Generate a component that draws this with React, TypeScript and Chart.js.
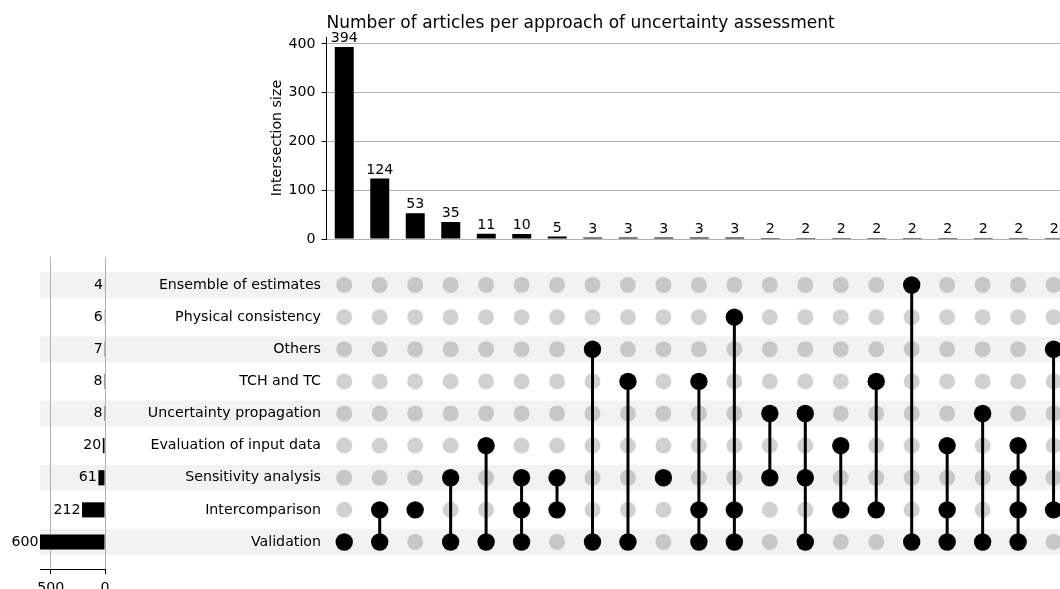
import React, { useEffect, useRef } from "react";
import { Chart, registerables } from "chart.js";

Chart.register(...registerables);

const FONT = "'DejaVu Sans', 'Liberation Sans', sans-serif";
const CANVAS_W = 1080;
const CANVAS_H = 589;
const SMALL = 14.2;
const BIG = 17.05;

const TITLE = "Number of articles per approach of uncertainty assessment";
const Y_TITLE = "Intersection size";

// Sets, top to bottom in the matrix
const SETS = [
  "Ensemble of estimates",
  "Physical consistency",
  "Others",
  "TCH and TC",
  "Uncertainty propagation",
  "Evaluation of input data",
  "Sensitivity analysis",
  "Intercomparison",
  "Validation",
];
const SET_TOTALS = [4, 6, 7, 8, 8, 20, 61, 212, 600];

// Intersections, left to right
const INTERSECTION_SIZES = [394, 124, 53, 35, 11, 10, 5, 3, 3, 3, 3, 3, 2, 2, 2, 2, 2, 2, 2, 2, 2];
const INTERSECTION_MEMBERS = [
  ["Validation"],
  ["Intercomparison", "Validation"],
  ["Intercomparison"],
  ["Sensitivity analysis", "Validation"],
  ["Evaluation of input data", "Validation"],
  ["Sensitivity analysis", "Intercomparison", "Validation"],
  ["Sensitivity analysis", "Intercomparison"],
  ["Others", "Validation"],
  ["TCH and TC", "Validation"],
  ["Sensitivity analysis"],
  ["TCH and TC", "Intercomparison", "Validation"],
  ["Physical consistency", "Intercomparison", "Validation"],
  ["Uncertainty propagation", "Sensitivity analysis"],
  ["Uncertainty propagation", "Sensitivity analysis", "Validation"],
  ["Evaluation of input data", "Intercomparison"],
  ["TCH and TC", "Intercomparison"],
  ["Ensemble of estimates", "Validation"],
  ["Evaluation of input data", "Intercomparison", "Validation"],
  ["Uncertainty propagation", "Validation"],
  ["Evaluation of input data", "Sensitivity analysis", "Intercomparison", "Validation"],
  ["Others", "Intercomparison"],
];

const Y_TICKS = [0, 100, 200, 300, 400];
const TOTALS_TICKS = [0, 500];

export default function App() {
  const barRef = useRef<HTMLCanvasElement>(null);
  const matRef = useRef<HTMLCanvasElement>(null);
  const totRef = useRef<HTMLCanvasElement>(null);

  useEffect(() => {
    const charts: any[] = [];
    const tickFont = { family: FONT, size: SMALL, weight: "normal" as const, lineHeight: 1.2 };

    // ---------- Matrix chart ----------
    const active: any[] = [];
    const inactive: any[] = [];
    const lineSets: any[] = [];
    INTERSECTION_MEMBERS.forEach((members, col) => {
      const rows: number[] = [];
      SETS.forEach((s, r) => {
        if (members.includes(s)) {
          active.push({ x: col, y: r });
          rows.push(r);
        } else {
          inactive.push({ x: col, y: r });
        }
      });
      if (rows.length > 1) {
        lineSets.push({
          type: "scatter",
          data: [
            { x: col, y: Math.min(...rows) },
            { x: col, y: Math.max(...rows) },
          ],
          showLine: true,
          borderColor: "#000",
          borderWidth: 3,
          pointRadius: 0,
          pointHoverRadius: 0,
          order: 1,
          clip: false,
        });
      }
    });

    const stripes = {
      id: "stripes",
      beforeDraw(chart: any) {
        const ctx = chart.ctx;
        const y = chart.scales.y;
        ctx.save();
        ctx.fillStyle = "rgba(0,0,0,0.05)";
        SETS.forEach((_, i) => {
          if (i % 2 === 0) {
            const top = y.getPixelForValue(i - 0.4);
            const bot = y.getPixelForValue(i + 0.4);
            ctx.fillRect(40, Math.min(top, bot), chart.width - 40, Math.abs(bot - top));
          }
        });
        ctx.restore();
      },
    };

    charts.push(
      new Chart(matRef.current as HTMLCanvasElement, {
        type: "scatter",
        data: {
          datasets: [
            {
              data: active,
              pointRadius: 8.7,
              pointHoverRadius: 8.7,
              pointBackgroundColor: "#000",
              pointBorderWidth: 0,
              pointBorderColor: "rgba(0,0,0,0)",
              order: 0,
              clip: false,
            },
            ...lineSets,
            {
              data: inactive,
              pointRadius: 8,
              pointHoverRadius: 8,
              pointBackgroundColor: "rgba(0,0,0,0.18)",
              pointBorderWidth: 0,
              pointBorderColor: "rgba(0,0,0,0)",
              order: 2,
              clip: false,
            },
          ],
        } as any,
        options: {
          responsive: false,
          animation: false,
          events: [],
          layout: { padding: { left: 0, top: 268.94, right: 8, bottom: 30.94 } },
          plugins: { legend: { display: false }, tooltip: { enabled: false }, title: { display: false } },
          scales: {
            x: { type: "linear", min: -0.5, max: INTERSECTION_SIZES.length - 0.5, display: false },
            y: {
              type: "linear",
              min: -0.5,
              max: SETS.length - 0.5,
              reverse: true,
              offset: false,
              afterFit: (s: any) => {
                s.width = 326.5;
              },
              afterBuildTicks: (s: any) => {
                s.ticks = SETS.map((_, i) => ({ value: i }));
              },
              grid: { display: false, drawTicks: false },
              border: { display: false },
              ticks: {
                autoSkip: false,
                padding: 5.5,
                color: "#000",
                font: tickFont,
                callback: (v: any) => SETS[v as number] ?? "",
              },
            },
          },
        } as any,
        plugins: [stripes],
      })
    );

    // ---------- Set totals chart ----------
    const totalLabels = {
      id: "totalLabels",
      afterDatasetsDraw(chart: any) {
        const ctx = chart.ctx;
        const meta = chart.getDatasetMeta(0);
        ctx.save();
        ctx.font = `${SMALL}px ${FONT}`;
        ctx.fillStyle = "#000";
        ctx.textAlign = "right";
        ctx.textBaseline = "middle";
        meta.data.forEach((el: any, i: number) => {
          const left = Math.min(el.x, el.base);
          ctx.fillText(String(SET_TOTALS[i]), left - 1.5, el.y);
        });
        ctx.restore();
      },
    };

    charts.push(
      new Chart(totRef.current as HTMLCanvasElement, {
        type: "bar",
        data: {
          datasets: [
            {
              data: SET_TOTALS.map((v, i) => ({ x: v, y: i })),
              backgroundColor: "#000",
              categoryPercentage: 1,
              barPercentage: 0.56,
            },
          ],
        },
        options: {
          indexAxis: "y",
          responsive: false,
          animation: false,
          events: [],
          layout: { padding: { left: 40, right: CANVAS_W - 105, top: 257, bottom: 0 } },
          plugins: { legend: { display: false }, tooltip: { enabled: false }, title: { display: false } },
          scales: {
            y: {
              type: "linear",
              min: -0.8716,
              max: 8.8405,
              reverse: true,
              offset: false,
              display: false,
              grid: { offset: false },
            },
            x: {
              type: "linear",
              min: 0,
              max: 600,
              reverse: true,
              offset: false,
              afterFit: (s: any) => {
                s.height = 20;
              },
              afterBuildTicks: (s: any) => {
                s.ticks = TOTALS_TICKS.map((v) => ({ value: v }));
              },
              border: { display: true, color: "#000", width: 1 },
              grid: { color: "#b0b0b0", lineWidth: 1, tickColor: "#000", tickLength: 5, drawTicks: true },
              ticks: {
                maxRotation: 0,
                autoSkip: false,
                padding: 5.5,
                color: "#000",
                font: tickFont,
              },
            },
          },
        } as any,
        plugins: [totalLabels],
      })
    );

    // ---------- Intersection size bar chart ----------
    const barLabels = {
      id: "barLabels",
      afterDatasetsDraw(chart: any) {
        const ctx = chart.ctx;
        const meta = chart.getDatasetMeta(0);
        ctx.save();
        ctx.font = `${SMALL}px ${FONT}`;
        ctx.fillStyle = "#000";
        ctx.textAlign = "center";
        ctx.textBaseline = "alphabetic";
        meta.data.forEach((el: any, i: number) => {
          ctx.fillText(String(INTERSECTION_SIZES[i]), el.x, el.y - 5);
        });
        ctx.restore();
      },
    };

    charts.push(
      new Chart(barRef.current as HTMLCanvasElement, {
        type: "bar",
        data: {
          labels: INTERSECTION_MEMBERS.map((m) => m.join(" & ")),
          datasets: [
            {
              data: INTERSECTION_SIZES,
              backgroundColor: "#000",
              categoryPercentage: 1,
              barPercentage: 0.535,
            },
          ],
        },
        options: {
          responsive: false,
          animation: false,
          events: [],
          layout: { padding: { left: 268.5, top: 13.3, right: 8, bottom: CANVAS_H - 239 } },
          plugins: {
            legend: { display: false },
            tooltip: { enabled: false },
            title: {
              display: true,
              text: TITLE,
              align: "start",
              fullSize: false,
              color: "#000",
              font: { family: FONT, size: BIG, weight: "normal", lineHeight: 1.2 },
              padding: { top: 0, bottom: 3.4 },
            },
          },
          scales: {
            x: { display: false },
            y: {
              min: 0,
              max: 414,
              afterFit: (s: any) => {
                s.width = 58;
              },
              afterBuildTicks: (s: any) => {
                s.ticks = Y_TICKS.map((v) => ({ value: v }));
              },
              border: { display: true, color: "#000", width: 1 },
              grid: { color: "#b0b0b0", lineWidth: 1, tickColor: "#000", tickLength: 5, drawTicks: true },
              ticks: {
                padding: 6,
                color: "#000",
                font: tickFont,
              },
              title: {
                display: true,
                text: Y_TITLE,
                color: "#000",
                font: tickFont,
                padding: 0,
              },
            },
          },
        } as any,
        plugins: [barLabels],
      })
    );

    return () => {
      charts.forEach((c) => c.destroy());
    };
  }, []);

  const cs: React.CSSProperties = { position: "absolute", left: 0, top: 0 };
  return (
    <div
      style={{
        position: "fixed",
        left: 0,
        top: 0,
        width: 1060,
        height: 589,
        overflow: "hidden",
        background: "#fff",
      }}
    >
      <canvas ref={matRef} width={CANVAS_W} height={CANVAS_H} style={cs} />
      <canvas ref={totRef} width={CANVAS_W} height={CANVAS_H} style={cs} />
      <canvas ref={barRef} width={CANVAS_W} height={CANVAS_H} style={cs} />
    </div>
  );
}
